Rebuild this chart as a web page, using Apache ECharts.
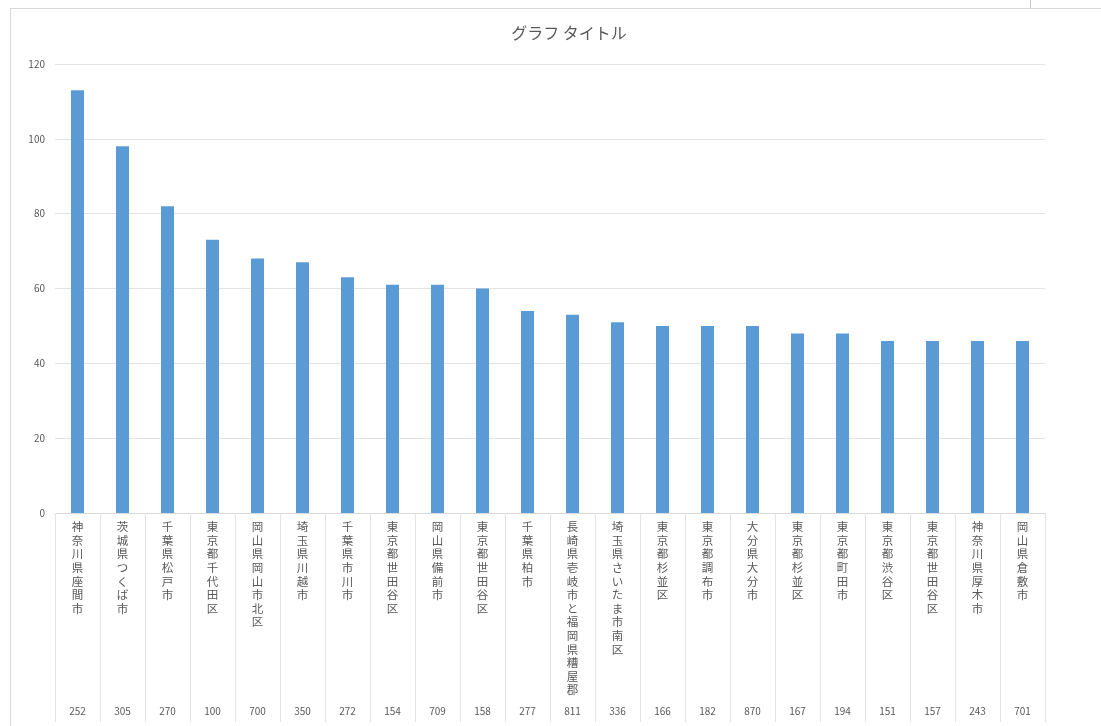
<!DOCTYPE html>
<html>
<head>
<meta charset="utf-8">
<script src="https://cdn.jsdelivr.net/npm/echarts@6/dist/echarts.min.js"></script>
<style>
  html,body{margin:0;padding:0;background:#fff;}
  #main{width:1101px;height:726px;}
</style>
</head>
<body>
<div id="main"></div>
<script>
// 地域名（縦書き）
var areas = ['神奈川県座間市','茨城県つくば市','千葉県松戸市','東京都千代田区','岡山県岡山市北区','埼玉県川越市','千葉県市川市','東京都世田谷区','岡山県備前市','東京都世田谷区','千葉県柏市','長崎県壱岐市と福岡県糟屋郡','埼玉県さいたま市南区','東京都杉並区','東京都調布市','大分県大分市','東京都杉並区','東京都町田市','東京都渋谷区','東京都世田谷区','神奈川県厚木市','岡山県倉敷市'];
// 郵便番号上3桁
var codes = ['252','305','270','100','700','350','272','154','709','158','277','811','336','166','182','870','167','194','151','157','243','701'];
// 件数
var counts = [113,98,82,73,68,67,63,61,61,60,54,53,51,50,50,50,48,48,46,46,46,46];
var yTicks = {min:0, max:120, interval:20};

var font = '"Noto Sans CJK JP", "Noto Sans", sans-serif';
var grayTxt = '#595959';
var lineCol = '#e3e3e3';

// カテゴリ軸ラベル：縦書きにする
function vertical(s){
  return s.split('').join('\n');
}

var myChart = echarts.init(document.getElementById('main'));
var option = {
  animation:false,
  textStyle:{fontFamily:font},
  title:{
    text:'グラフ タイトル',
    left:564,
    textAlign:'center',
    top:20,
    textStyle:{color:grayTxt, fontSize:16, fontWeight:'normal', fontFamily:font}
  },
  grid:{left:55, right:56, top:64, bottom:213},
  xAxis:[
    {
      type:'category',
      data:areas,
      axisLine:{lineStyle:{color:'#d9d9d9'}},
      axisTick:{show:true, length:209, lineStyle:{color:lineCol}},
      axisLabel:{
        interval:0,
        margin:7,
        color:grayTxt,
        fontSize:11.5,
        lineHeight:13.6,
        fontFamily:font,
        formatter:function(v){return vertical(v);}
      }
    },
    {
      type:'category',
      data:codes,
      position:'bottom',
      axisLine:{show:false},
      axisTick:{show:false},
      axisLabel:{interval:0, margin:193, color:grayTxt, fontSize:10, fontFamily:font}
    }
  ],
  yAxis:{
    type:'value',
    min:yTicks.min,
    max:yTicks.max,
    interval:yTicks.interval,
    axisLine:{show:false},
    axisTick:{show:false},
    axisLabel:{color:grayTxt, fontSize:10, margin:10, fontFamily:font},
    splitLine:{lineStyle:{color:lineCol}}
  },
  series:[{
    type:'bar',
    data:counts,
    barWidth:13,
    itemStyle:{color:'#5b9bd5'}
  }],
  graphic:[
    {type:'line', shape:{x1:10, y1:8.5, x2:1101, y2:8.5}, style:{stroke:'#d9d9d9', lineWidth:1}},
    {type:'line', shape:{x1:10.5, y1:8, x2:10.5, y2:726}, style:{stroke:'#d9d9d9', lineWidth:1}},
    {type:'line', shape:{x1:1030.5, y1:0, x2:1030.5, y2:8}, style:{stroke:'#c8c8c8', lineWidth:1}}
  ]
};
myChart.setOption(option);
</script>
</body>
</html>
